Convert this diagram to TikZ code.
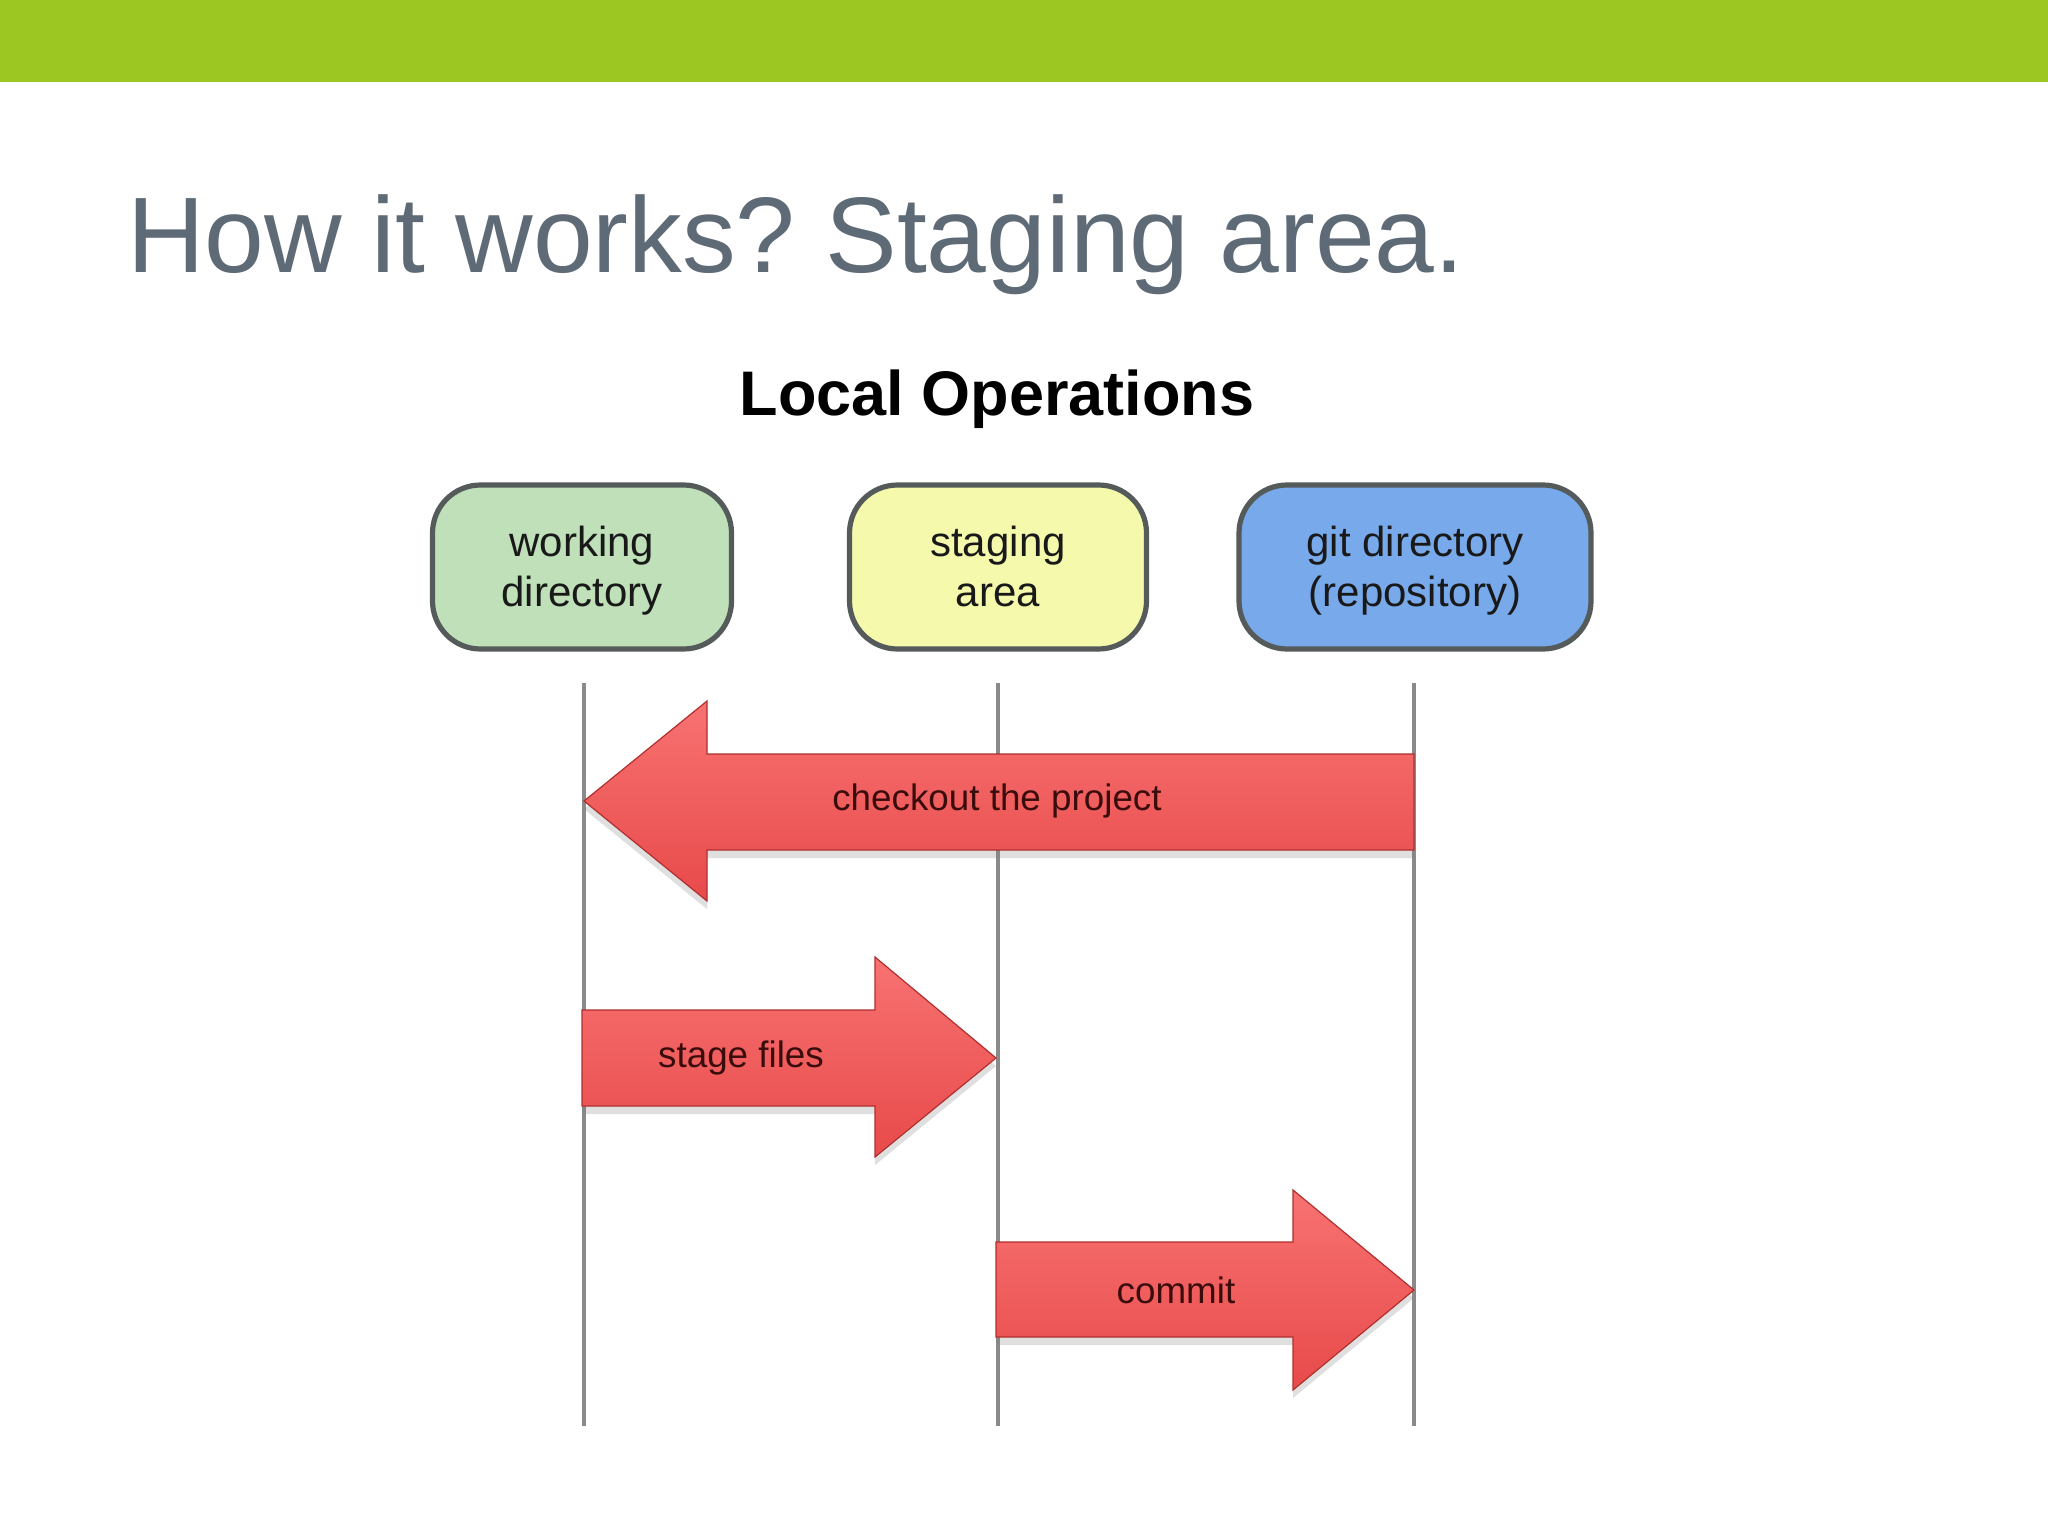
\documentclass[tikz,border=0pt]{standalone}
\usepackage{fontspec}
\setmainfont{Liberation Sans}
\usetikzlibrary{shadows}
\definecolor{barg}{HTML}{9CC723}
\definecolor{titleg}{HTML}{5E6A76}
\definecolor{wdfill}{HTML}{BFE0B9}
\definecolor{safill}{HTML}{F4F9AC}
\definecolor{gdfill}{HTML}{78A9EA}
\definecolor{boxline}{HTML}{555B5B}
\definecolor{lifeg}{HTML}{8A8A8A}
\definecolor{arrtop}{HTML}{F87272}
\definecolor{arrbot}{HTML}{E84A4A}
\definecolor{arrline}{HTML}{B0302F}
\definecolor{arrtext}{HTML}{3A0C0C}
\newcommand{\firststrut}{\rule{0pt}{21.5pt}}
\tikzset{
  areabox/.style={draw=boxline, line width=2.6pt, rounded corners=24pt,
    minimum height=82pt, inner sep=0pt, align=center,
    font=\fontsize{21}{25}\selectfont, text=black!90},
  lifeline/.style={draw=lifeg, line width=1.6pt},
  bigarrow/.style={draw=arrline, line width=0.6pt, top color=arrtop, bottom color=arrbot,
    drop shadow={opacity=0.25, shadow xshift=0pt, shadow yshift=-4pt}},
  arrlabel/.style={font=\fontsize{18.4}{22}\selectfont, text=arrtext, inner sep=0pt}
}
\begin{document}
\frenchspacing
\begin{tikzpicture}[x=0.5pt,y=-0.5pt]
\useasboundingbox (0,0) rectangle (2048,1536);
\fill[white] (0,0) rectangle (2048,1536);
% top bar
\fill[barg] (0,0) rectangle (2048,82);
% title
\node[anchor=base west, inner sep=0pt, text=titleg, font=\fontsize{53.7}{60}\selectfont] (title) at (127,272) {How it works? Staging area.};
\node[anchor=base, inner sep=0pt, font=\bfseries\fontsize{31.5}{36}\selectfont] (local) at (997,415) {Local Operations};
% boxes
\node[areabox, fill=wdfill, minimum width=149.5pt] (wd) at (582,567) {\firststrut working\\\strut directory};
\node[areabox, fill=safill, minimum width=148.5pt] (sa) at (998,567) {\firststrut staging\\\strut area};
\node[areabox, fill=gdfill, minimum width=176pt] (gd) at (1415,567) {\firststrut git directory\\\strut (repository)};
% lifelines
\coordinate (l1t) at (584,683); \coordinate (l1b) at (584,1426);
\coordinate (l2t) at (998,683); \coordinate (l2b) at (998,1426);
\coordinate (l3t) at (1414,683); \coordinate (l3b) at (1414,1426);
\draw[lifeline] (l1t) -- (l1b);
\draw[lifeline] (l2t) -- (l2b);
\draw[lifeline] (l3t) -- (l3b);
% checkout arrow
\path[bigarrow] (584,801) -- (707,701) -- (707,754) -- (1414,754) -- (1414,850) -- (707,850) -- (707,901) -- cycle;
\node[arrlabel] (co) at (997,801) {checkout the project};
% stage files arrow
\path[bigarrow] (582,1010) -- (875,1010) -- (875,957) -- (996,1058) -- (875,1157) -- (875,1106) -- (582,1106) -- cycle;
\node[arrlabel] (sf) at (741,1058) {stage files};
% commit arrow
\path[bigarrow] (996,1242) -- (1293,1242) -- (1293,1190) -- (1414,1290) -- (1293,1390) -- (1293,1337) -- (996,1337) -- cycle;
\node[arrlabel] (cm) at (1176,1290) {commit};
\end{tikzpicture}
\end{document}
